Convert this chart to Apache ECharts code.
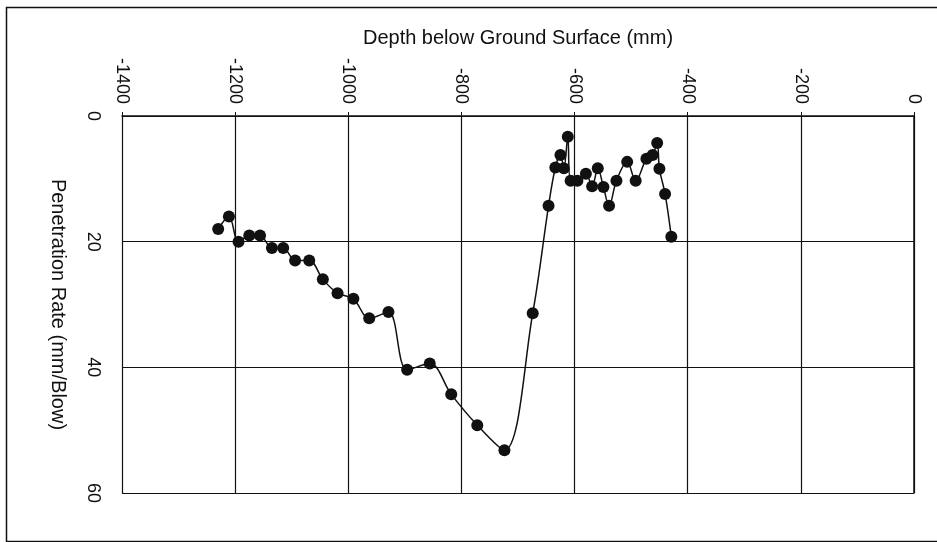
<!DOCTYPE html>
<html>
<head>
<meta charset="utf-8">
<script src="https://cdn.jsdelivr.net/npm/echarts@6/dist/echarts.min.js"></script>
<style>
  html, body { margin: 0; padding: 0; background: #fff; }
  #chart { width: 937px; height: 542px; }
</style>
</head>
<body>
<div id="chart"></div>
<script>
// depth below ground surface (mm) and penetration rate (mm/blow)
const depth = [-1230, -1211, -1194, -1175, -1156, -1135, -1115, -1094, -1069, -1045,
  -1019, -991, -963, -929, -896, -856, -818, -772, -724, -674,
  -646, -634, -625, -619, -612, -607, -595, -580, -569, -559,
  -549, -539, -526, -507, -492, -473, -462, -454, -450, -440, -429]
const rate = [18, 16, 20, 19, 19, 21, 21, 23, 23, 26,
  28.2, 29.1, 32.2, 31.2, 40.4, 39.4, 44.3, 49.2, 53.2, 31.4,
  14.3, 8.2, 6.2, 8.3, 3.3, 10.3, 10.3, 9.2, 11.2, 8.3,
  11.3, 14.3, 10.3, 7.3, 10.3, 6.8, 6.2, 4.3, 8.4, 12.4, 19.2]

const xTitle = 'Depth below Ground Surface (mm)'
const yTitle = 'Penetration Rate (mm/Blow)'

const font = '"Liberation Sans", Arial, sans-serif'
const ink = '#111'

let myChart = echarts.init(document.getElementById('chart'), null, { renderer: 'canvas' })

let points = depth.map((d, i) => [d, rate[i]])

// plain numbers, no thousands separator
let plain = v => String(v)

let option = {
  animation: false,
  backgroundColor: '#fff',
  grid: { left: 122, right: 23, top: 116, bottom: 49 },
  graphic: [{
    // page frame around the chart
    type: 'rect',
    left: 4, top: 5,
    shape: { width: 960, height: 534 },
    style: { fill: 'none', stroke: ink, lineWidth: 1.5 },
    silent: true
  }],
  xAxis: {
    type: 'value',
    position: 'top',
    min: -1400, max: 0, interval: 200,
    name: xTitle,
    nameLocation: 'middle',
    nameGap: 68,
    nameTextStyle: { color: ink, fontFamily: font, fontSize: 20 },
    axisLine: { lineStyle: { color: ink, width: 1.5 } },
    axisTick: { show: true, length: 4, lineStyle: { color: ink } },
    axisLabel: {
      rotate: -90, margin: 12,
      formatter: plain,
      color: ink, fontFamily: font, fontSize: 18
    },
    splitLine: { show: true, lineStyle: { color: ink, width: 1.2 } }
  },
  yAxis: {
    type: 'value',
    inverse: true,
    min: 0, max: 60, interval: 20,
    name: yTitle,
    nameLocation: 'middle',
    nameRotate: -90,
    nameGap: 54,
    nameTextStyle: { color: ink, fontFamily: font, fontSize: 20 },
    axisLine: { show: true, lineStyle: { color: ink, width: 1.5 } },
    axisTick: { show: true, length: 5, lineStyle: { color: ink } },
    axisLabel: {
      rotate: -90, margin: 20,
      formatter: plain,
      color: ink, fontFamily: font, fontSize: 18
    },
    splitLine: { show: true, lineStyle: { color: ink, width: 1.2 } }
  },
  series: [{
    type: 'line',
    data: points,
    smooth: 0.35,
    symbol: 'circle',
    symbolSize: 12,
    itemStyle: { color: ink },
    lineStyle: { color: ink, width: 1.5 },
    z: 5
  }]
}

myChart.setOption(option)
</script>
</body>
</html>
